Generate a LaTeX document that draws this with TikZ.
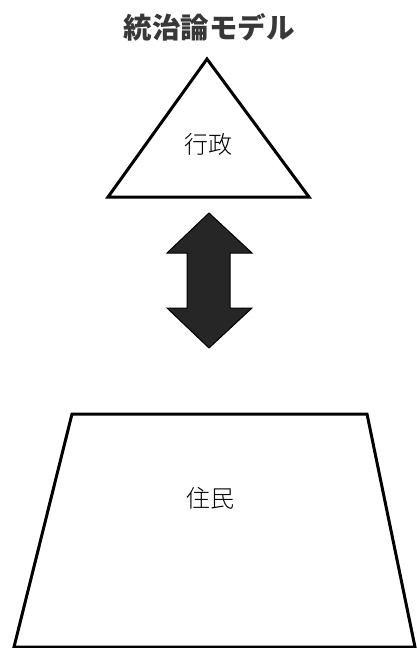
\documentclass[tikz,border=0pt]{standalone}
\usepackage{fontspec}
\newfontfamily\cjk{Noto Sans CJK JP}
\newfontfamily\cjklight{Noto Sans CJK JP Light}
\usepackage{tikz}
\usetikzlibrary{calc}
\definecolor{titlegray}{HTML}{383838}
\definecolor{arrowfill}{HTML}{262626}

\begin{document}
\begin{tikzpicture}[x=1pt, y=-1pt, line join=miter,
  shapeline/.style={draw=black, line width=3pt, fill=white},
  label/.style={font=\cjklight\fontsize{24}{24}\selectfont, text=black}]
  \useasboundingbox (0,0) rectangle (416,648);
  % Titre
  \node[font=\cjk\bfseries\fontsize{28.5}{28.5}\selectfont, text=titlegray] (titre) at (209,27) {統治論モデル};
  % Triangle (administration)
  \draw[shapeline] (207,59) -- (309,197) -- (108,197) -- cycle;
  \node[label] (gyosei) at (208,144) {行政};
  % Double flèche
  \draw[fill=arrowfill, draw=black, line width=1pt]
    (209,213) -- (252,253) -- (230,253) -- (230,308) -- (252,308)
    -- (209,348) -- (167,308) -- (187,308) -- (187,253) -- (167,253) -- cycle;
  % Trapèze (habitants)
  \draw[shapeline] (72,414) -- (367,414) -- (415,647) -- (14,647) -- cycle;
  \node[label] (jumin) at (210,498) {住民};
\end{tikzpicture}
\end{document}
